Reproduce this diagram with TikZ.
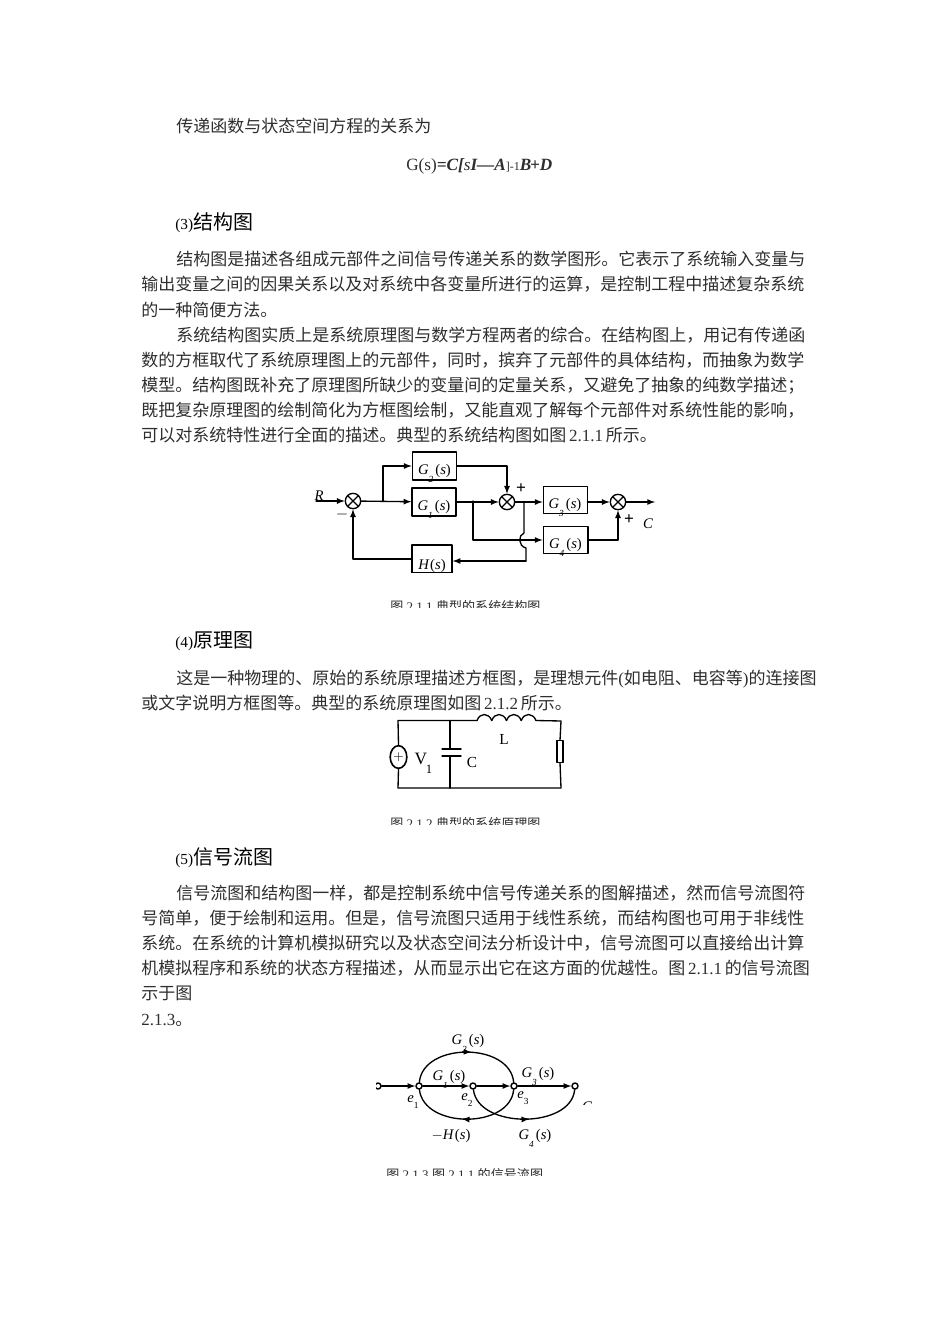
\documentclass[tikz,border=0pt]{standalone}
\usepackage{fontspec}
\setmainfont{Noto Sans CJK SC}
\newfontfamily\lat{Liberation Serif}
\usetikzlibrary{arrows.meta, decorations.markings, shapes.geometric}
\XeTeXlinebreaklocale "zh"
\XeTeXlinebreakskip=0pt plus 3pt
\colorlet{ink}{black!82}
\tikzset{>=latex}
\newcommand{\gsub}[1]{{\lat\itshape G\lower6pt\hbox{\scriptsize #1}\kern1.5pt{\upshape(}s{\upshape)}}}
\newcommand{\esub}[1]{{\lat\itshape e\lower4pt\hbox{\scriptsize\upshape #1}}}
\newcommand{\bd}[1]{{\lat\bfseries\itshape #1}}
\newcommand{\boxtext}[2]{\raisebox{-#1}[0pt][0pt]{#2}}

\begin{document}
\begin{tikzpicture}[x=0.75pt, y=-0.75pt,
                line cap=round, line join=round,
                bodyline/.style={anchor=base west, inner sep=0pt, font=\fontsize{12.75pt}{14pt}\selectfont, text=ink},
                captionline/.style={anchor=base west, inner sep=0pt, font=\fontsize{9.8pt}{11pt}\selectfont, text=ink},
                headline/.style={anchor=base west, inner sep=0pt, font=\fontsize{15pt}{17pt}\selectfont},
                blockbox/.style={draw, line width=1pt, inner sep=0pt, font=\fontsize{11pt}{13pt}\selectfont},
                sumnode/.style={draw, circle, line width=1pt, minimum size=11.5pt, inner sep=0pt,
                    path picture={\draw[line width=1pt]
                        (path picture bounding box.north west) -- (path picture bounding box.south east)
                        (path picture bounding box.north east) -- (path picture bounding box.south west);}},
                wire/.style={line width=1pt},
                signal/.style={wire,->},
                flownode/.style={draw, circle, fill=white, line width=1.1pt, minimum size=4.5pt, inner sep=0pt},
                flowarc/.style={wire, postaction={decorate}, decoration={markings, mark=at position 0.54 with {\arrow{latex}}}},
                tag/.style={inner sep=0pt, font=\lat\fontsize{11pt}{13pt}\selectfont},
                signtag/.style={inner sep=0pt, font=\lat\bfseries\fontsize{13pt}{14pt}\selectfont}]
    \useasboundingbox[fill=white] (0,0) rectangle (950,1344);

    % full width lines
    \foreach \x/\y/\w/\txt in {
        176/266/628/结构图是描述各组成元部件之间信号传递关系的数学图形。它表示了系统输入变量与,
        141/291/663/输出变量之间的因果关系以及对系统中各变量所进行的运算，是控制工程中描述复杂系统,
        176/341/628/系统结构图实质上是系统原理图与数学方程两者的综合。在结构图上，用记有传递函,
        141/366/663/数的方框取代了系统原理图上的元部件，同时，摈弃了元部件的具体结构，而抽象为数学,
        141/391/663/模型。结构图既补充了原理图所缺少的变量间的定量关系，又避免了抽象的纯数学描述；,
        141/416/663/既把复杂原理图的绘制简化为方框图绘制，又能直观了解每个元部件对系统性能的影响，,
        176/684/638/这是一种物理的、原始的系统原理描述方框图，是理想元件{\lat(}如电阻、电容等{\lat)}的连接图,
        176/899/628/信号流图和结构图一样，都是控制系统中信号传递关系的图解描述，然而信号流图符,
        141/924/663/号简单，便于绘制和运用。但是，信号流图只适用于线性系统，而结构图也可用于非线性,
        141/949/663/系统。在系统的计算机模拟研究以及状态空间法分析设计中，信号流图可以直接给出计算,
        141/974/669/机模拟程序和系统的状态方程描述，从而显示出它在这方面的优越性。图{\lat\,2.1.1\,}的信号流图}{
        \node[bodyline] (line\y) at (\x,\y) {\hbox to \dimexpr0.75pt*\w+5pt\relax{\txt}};
    }
    % short lines
    \foreach \x/\y/\txt in {
        176/133/传递函数与状态空间方程的关系为,
        141/316/的一种简便方法。,
        141/441/可以对系统特性进行全面的描述。典型的系统结构图如图{\lat\,2.1.1\,}所示。,
        141/709/或文字说明方框图等。典型的系统原理图如图{\lat\,2.1.2\,}所示。,
        141/999/示于图,
        141/1025/{\lat 2.1.3}。}{
        \node[bodyline] (line\y) at (\x,\y) {\txt};
    }
    % headings
    \foreach \y/\num/\txt in {230/3/结构图, 647/4/原理图, 864/5/信号流图}{
        \node[headline] (head\num) at (175,\y) {{\lat\fontsize{11.5pt}{13pt}\selectfont(\num)}\txt};
    }
    \node[bodyline, font=\lat\fontsize{12.9pt}{14pt}\selectfont] (formula) at (406,171)
        {G(s)\bd{=C[}{\itshape s}\bd{I—A}{\fontsize{9pt}{10pt}\selectfont]-1}\bd{B}\kern-1pt\bd{+D}};

    % captions are cut off in the middle
    \begin{scope}
        \clip (300,590) rectangle (660,607);
        \node[captionline] (cap1) at (390,611) {图{\lat\ 2.1.1 }典型的系统结构图};
    \end{scope}
    \begin{scope}
        \clip (300,810) rectangle (660,824);
        \node[captionline] (cap2) at (390,828) {图{\lat\ 2.1.2 }典型的系统原理图};
    \end{scope}
    \begin{scope}
        \clip (300,1160) rectangle (660,1175);
        \node[captionline] (cap3) at (386,1179) {图{\lat\ 2.1.3 }图{\lat\ 2.1.1 }的信号流图};
    \end{scope}

    % block diagram
    \begin{scope}
        \clip (300,445) rectangle (670,572.5);
        \node[blockbox, minimum width=33pt, minimum height=21pt, line width=1.3pt] (g2) at (434.5,466) {\boxtext{6.5pt}{\gsub{2}}};
        \node[blockbox, minimum width=33pt, minimum height=21pt] (g1) at (434,502) {\boxtext{6.5pt}{\gsub{1}}};
        \node[blockbox, minimum width=33pt, minimum height=20pt, line width=0.6pt] (g3) at (565,500) {\boxtext{6.5pt}{\gsub{3}}};
        \node[blockbox, minimum width=33.5pt, minimum height=20pt] (g4) at (565.5,540) {\boxtext{6.5pt}{\gsub{4}}};
        \node[blockbox, minimum width=30pt, minimum height=21pt] (hs) at (432,559) {\boxtext{8pt}{\lat\itshape H\kern1pt{\upshape(}s{\upshape)}}};
    \end{scope}
    \node[sumnode] (sum1) at (353,501) {};
    \node[sumnode] (sum2) at (507,502) {};
    \node[sumnode] (sum3) at (618,502) {};
    \coordinate (rin) at (316,501);
    \coordinate (cout) at (655,502);
    \coordinate (split1) at (383,501);
    \coordinate (split2) at (473,501);
    \coordinate (split3) at (524,502);
    \coordinate (hin) at (526,561);
    \draw[signal] (rin) -- (sum1);
    \draw[signal] (sum1) -- (g1);
    \draw[signal] (split1) |- (g2.west);
    \draw[signal] (g2.east) -| (sum2.north);
    \draw[signal] (g1) -- (sum2);
    \draw[signal] (sum2) -- (g3.west |- sum2);
    \draw[signal] (g3.east |- sum3) -- (sum3);
    \draw[signal] (sum3) -- (cout);
    \draw[signal] (split2) |- (g4.west);
    \draw[signal] (g4.east) -| (sum3.south);
    \draw[wire] (split3) -- (524,533) .. controls (518,535) and (518,546) .. (526,548) -- (hin);
    \draw[signal] (hin) -- (hs.east |- hin);
    \draw[signal] (hs.west) -| (sum1.south);
    \node[tag] (rlabel) at (319,496) {\itshape R};
    \node[signtag] (minus) at (342,514) {$-$};
    \node[signtag] (plus1) at (521,489) {+};
    \node[signtag] (plus2) at (629,520) {+};
    \node[tag] (clabel) at (648,524) {\itshape C};

    % circuit
    \coordinate (tl) at (398,720.5);
    \coordinate (bl) at (398,788);
    \coordinate (tr) at (561,721);
    \coordinate (br) at (561,788);
    \node[draw, ellipse, line width=1.2pt, minimum width=12.5pt, minimum height=17pt, inner sep=0pt, font=\fontsize{10pt}{12pt}\selectfont] (source) at (398.5,757) {$+$};
    \node[draw, line width=0.8pt, minimum width=4.5pt, minimum height=16pt, inner sep=0pt] (resistor) at (560,751.5) {};
    \coordinate (capa) at (450,749);
    \coordinate (capb) at (450,756);
    \draw[wire] (source.north) -- (tl) -- (477,720.5);
    \foreach \i [evaluate={\xa=477+14.75*\i;}] in {0,...,3}{
        \draw[wire] (\xa,720.5) .. controls (\xa+3,712.5) and (\xa+11.5,712.5) .. (\xa+14.75,720.5);
    }
    \draw[wire] (536,720.5) -- (tr) -- (resistor.north);
    \draw[wire] (resistor.south) -- (br) -- (bl) -- (source.south);
    \draw[wire] (450,720.5) -- (capa);
    \draw[wire] (capb) -- (450,788);
    \draw[wire] (442,749) -- (461,749);
    \draw[wire] (442,756) -- (461,756);
    \node[tag, font=\lat\fontsize{13pt}{15pt}\selectfont] (vlabel) at (421,759) {V};
    \node[tag, font=\lat\fontsize{9.5pt}{11pt}\selectfont] (vsub) at (429,769) {1};
    \node[tag, font=\lat\fontsize{11.5pt}{13pt}\selectfont] (clab) at (472,762) {C};
    \node[tag, font=\lat\fontsize{11.5pt}{13pt}\selectfont] (llab) at (504,739) {L};

    % flow graph
    \begin{scope}
        \clip (376,1030) rectangle (600,1104);
        \node[flownode] (n0) at (378,1086) {};
        \node[tag] (flowr) at (372,1102) {\itshape R};
        \node[tag] (flowc) at (587,1107) {\itshape C};
    \end{scope}
    \node[flownode] (e1) at (419,1086) {};
    \node[flownode] (e2) at (473,1086) {};
    \node[flownode] (e3) at (514,1086) {};
    \node[flownode] (e4) at (575,1086) {};
    \draw[signal] (n0) -- (e1);
    \draw[signal] (e1) -- (e2);
    \draw[signal] (e2) -- (e3);
    \draw[signal] (e3) -- (e4);
    \draw[flowarc] (e1) .. controls (423,1042) and (510,1042) .. (e3);
    \draw[flowarc] (e3) .. controls (510,1129) and (424,1129) .. (e1);
    \draw[flowarc] (e2) .. controls (478,1129) and (571,1129) .. (e4);
    \node[tag] (lg2) at (468,1043) {\gsub{2}};
    \node[tag] (lg1) at (449,1079) {\gsub{1}};
    \node[tag] (lg3) at (538,1076) {\gsub{3}};
    \node[tag] (lg4) at (535,1138) {\gsub{4}};
    \node[tag] (lh) at (451,1136) {\itshape $-$H\kern1pt{\upshape(}s{\upshape)}};
    \node[tag] (le1) at (413,1102) {\esub{1}};
    \node[tag] (le2) at (467,1100) {\esub{2}};
    \node[tag] (le3) at (523,1098) {\esub{3}};
\end{tikzpicture}
\end{document}
